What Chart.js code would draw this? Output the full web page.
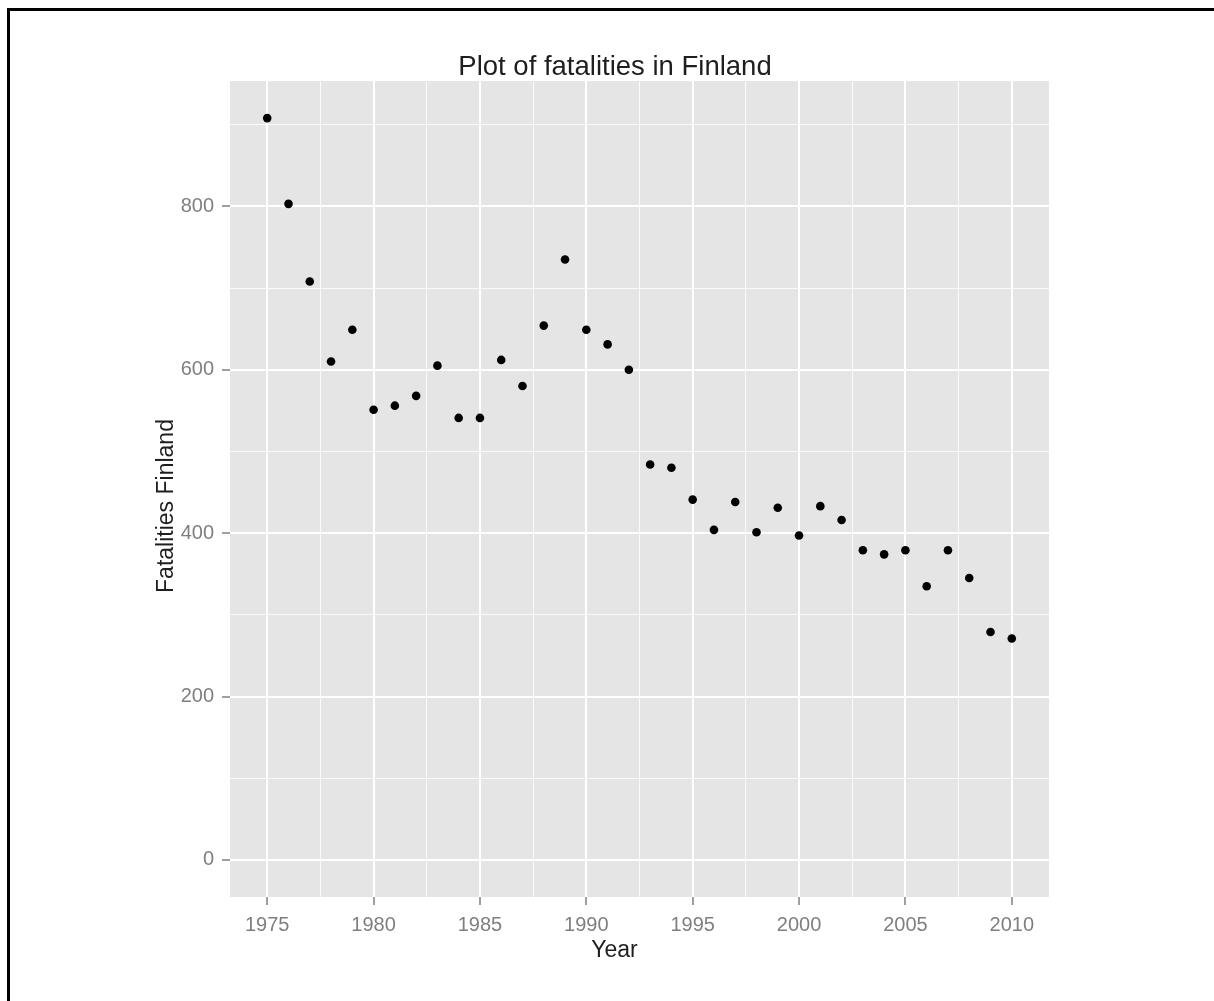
<!DOCTYPE html>
<html><head><meta charset="utf-8">
<script src="https://cdn.jsdelivr.net/npm/chart.js@4"></script>
<style>
html,body{margin:0;padding:0;background:#fff;}
#wrap{position:relative;width:1214px;height:1001px;overflow:hidden;}
#frame{position:absolute;left:7px;top:8px;width:1300px;height:1100px;border-left:3px solid #000;border-top:3px solid #000;pointer-events:none;}
canvas{position:absolute;left:0;top:0;}
</style></head><body>
<div id="wrap"><canvas id="c" width="1214" height="1001"></canvas><div id="frame"></div></div>
<script>
const years = [1975,1976,1977,1978,1979,1980,1981,1982,1983,1984,1985,1986,1987,1988,1989,1990,1991,1992,1993,1994,1995,1996,1997,1998,1999,2000,2001,2002,2003,2004,2005,2006,2007,2008,2009,2010];
const fatalities = [908,803,708,610,649,551,556,568,605,541,541,612,580,654,735,649,631,600,484,480,441,404,438,401,431,397,433,416,379,374,379,335,379,345,279,271];
const xMajorTicks = [1975,1980,1985,1990,1995,2000,2005,2010];
const xMinorTicks = [1977.5,1982.5,1987.5,1992.5,1997.5,2002.5,2007.5];
const yMajorTicks = [0,200,400,600,800];
const yMinorTicks = [100,300,500,700,900];
const chartTitle = 'Plot of fatalities in Finland';
const xTitle = 'Year';
const yTitle = 'Fatalities Finland';

const xLo = 1975, xHi = 2010, yLo = 0, yHi = 908;
const xExp = (xHi - xLo) * 0.05, yExp = (yHi - yLo) * 0.05;

const FONT = "'Liberation Sans', Arial, sans-serif";

function tickSetup(major, minor) {
  const majorSet = new Set(major);
  const isMajor = ctx => ctx && ctx.tick && majorSet.has(ctx.tick.value);
  return {
    afterBuildTicks: s => { s.ticks = [...major, ...minor].sort((a,b)=>a-b).map(v => ({value: v})); },
    ticks: {
      autoSkip: false,
      maxRotation: 0,
      padding: 8,
      color: '#7f7f7f',
      font: {family: FONT, size: 20},
      callback: v => majorSet.has(v) ? String(v) : ''
    },
    grid: {
      color: ctx => isMajor(ctx) ? '#ffffff' : 'rgba(255,255,255,0.8)',
      lineWidth: ctx => isMajor(ctx) ? 2 : 1,
      tickColor: ctx => isMajor(ctx) ? '#7f7f7f' : 'rgba(0,0,0,0)',
      tickWidth: ctx => isMajor(ctx) ? 1.5 : 0,
      tickLength: 8,
      drawTicks: true
    },
    border: {display: false}
  };
}

const panelBg = {
  id: 'panelBg',
  beforeDraw(chart) {
    const {ctx, chartArea: a} = chart;
    ctx.save();
    ctx.fillStyle = '#e5e5e5';
    ctx.fillRect(a.left, a.top, a.right - a.left, a.bottom - a.top);
    ctx.restore();
  }
};

const texts = {
  id: 'texts',
  afterDraw(chart) {
    const ctx = chart.ctx;
    ctx.save();
    ctx.fillStyle = '#1e1e1e';
    ctx.textAlign = 'center';
    ctx.textBaseline = 'alphabetic';
    ctx.font = `27.5px ${FONT}`;
    ctx.fillText(chartTitle, 615, 75);
    ctx.font = `23px ${FONT}`;
    ctx.fillText(xTitle, 614.5, 957);
    ctx.translate(173, 506);
    ctx.rotate(-Math.PI / 2);
    ctx.fillText(yTitle, 0, 0);
    ctx.restore();
  }
};

const xs = tickSetup(xMajorTicks, xMinorTicks);
const ys = tickSetup(yMajorTicks, yMinorTicks);

new Chart(document.getElementById('c'), {
  type: 'scatter',
  data: {
    datasets: [{
      data: years.map((y, i) => ({x: y, y: fatalities[i]})),
      backgroundColor: '#000',
      borderWidth: 0,
      pointRadius: 4.3,
      pointStyle: 'circle'
    }]
  },
  options: {
    responsive: false,
    animation: false,
    devicePixelRatio: 1,
    layout: {padding: {left: 0, top: 81, right: 165, bottom: 0}},
    plugins: {legend: {display: false}, tooltip: {enabled: false}, title: {display: false}},
    scales: {
      x: Object.assign({type: 'linear', min: xLo - xExp, max: xHi + xExp,
        afterFit: s => { s.height = 104; }}, xs),
      y: Object.assign({type: 'linear', min: yLo - yExp, max: yHi + yExp,
        afterFit: s => { s.width = 230; }}, ys)
    }
  },
  plugins: [panelBg, texts]
});
</script>
</body></html>
